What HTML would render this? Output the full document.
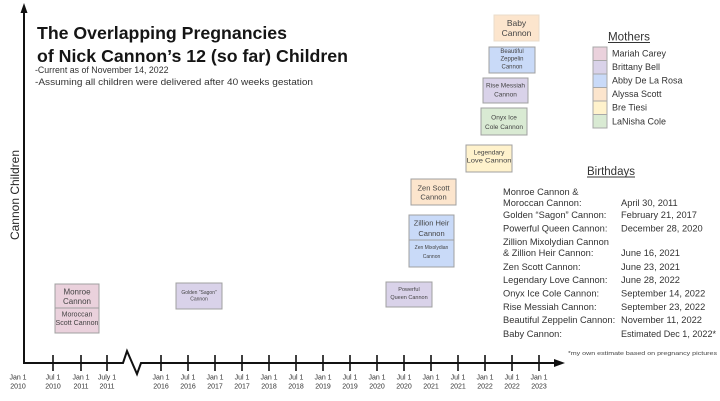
<!DOCTYPE html>
<html>
<head>
<meta charset="utf-8">
<style>
html,body{margin:0;padding:0;background:#fff;}
svg{display:block;}
text{font-family:"Liberation Sans",Arial,sans-serif;}
</style>
</head>
<body>
<svg width="720" height="401" viewBox="0 0 720 401" xmlns="http://www.w3.org/2000/svg">
<rect x="0" y="0" width="720" height="401" fill="#fff"/>

<!-- Title -->
<text x="37" y="39" font-size="17.5" font-weight="bold" fill="#151515" textLength="250" lengthAdjust="spacingAndGlyphs">The Overlapping Pregnancies</text>
<text x="37" y="62" font-size="17.5" font-weight="bold" fill="#151515" textLength="311" lengthAdjust="spacingAndGlyphs">of Nick Cannon’s 12 (so far) Children</text>
<text x="35" y="70" font-size="8.8" fill="#333" dominant-baseline="central">-Current as of November 14, 2022</text>
<text x="35" y="82" font-size="8.8" fill="#333" dominant-baseline="central" textLength="278" lengthAdjust="spacingAndGlyphs">-Assuming all children were delivered after 40 weeks gestation</text>

<!-- Y axis -->
<line x1="24" y1="10" x2="24" y2="363" stroke="#111" stroke-width="2"/>
<polygon points="24,3 20.5,13 27.5,13" fill="#111"/>
<text x="0" y="0" font-size="12" fill="#222" text-anchor="middle" dominant-baseline="central" transform="translate(15,195) rotate(-90)">Cannon Children</text>

<!-- X axis -->
<polyline points="23,363 123,363 127,351 137,374 141,363 556,363" fill="none" stroke="#111" stroke-width="2" stroke-linejoin="miter"/>
<polygon points="565,363 554,359 554,367" fill="#111"/>
<g stroke="#111" stroke-width="1.6">
<line x1="53" y1="355" x2="53" y2="371"/>
<line x1="81" y1="355" x2="81" y2="371"/>
<line x1="107" y1="355" x2="107" y2="371"/>
<line x1="161" y1="355" x2="161" y2="371"/>
<line x1="188" y1="355" x2="188" y2="371"/>
<line x1="215" y1="355" x2="215" y2="371"/>
<line x1="242" y1="355" x2="242" y2="371"/>
<line x1="269" y1="355" x2="269" y2="371"/>
<line x1="296" y1="355" x2="296" y2="371"/>
<line x1="323" y1="355" x2="323" y2="371"/>
<line x1="350" y1="355" x2="350" y2="371"/>
<line x1="377" y1="355" x2="377" y2="371"/>
<line x1="404" y1="355" x2="404" y2="371"/>
<line x1="431" y1="355" x2="431" y2="371"/>
<line x1="458" y1="355" x2="458" y2="371"/>
<line x1="485" y1="355" x2="485" y2="371"/>
<line x1="512" y1="355" x2="512" y2="371"/>
<line x1="539" y1="355" x2="539" y2="371"/>
</g>
<g font-size="7" fill="#333" text-anchor="middle" dominant-baseline="central">
<text x="18" y="378">Jan 1</text><text x="18" y="387">2010</text>
<text x="53" y="378">Jul 1</text><text x="53" y="387">2010</text>
<text x="81" y="378">Jan 1</text><text x="81" y="387">2011</text>
<text x="107" y="378">July 1</text><text x="107" y="387">2011</text>
<text x="161" y="378">Jan 1</text><text x="161" y="387">2016</text>
<text x="188" y="378">Jul 1</text><text x="188" y="387">2016</text>
<text x="215" y="378">Jan 1</text><text x="215" y="387">2017</text>
<text x="242" y="378">Jul 1</text><text x="242" y="387">2017</text>
<text x="269" y="378">Jan 1</text><text x="269" y="387">2018</text>
<text x="296" y="378">Jul 1</text><text x="296" y="387">2018</text>
<text x="323" y="378">Jan 1</text><text x="323" y="387">2019</text>
<text x="350" y="378">Jul 1</text><text x="350" y="387">2019</text>
<text x="377" y="378">Jan 1</text><text x="377" y="387">2020</text>
<text x="404" y="378">Jul 1</text><text x="404" y="387">2020</text>
<text x="431" y="378">Jan 1</text><text x="431" y="387">2021</text>
<text x="458" y="378">Jul 1</text><text x="458" y="387">2021</text>
<text x="485" y="378">Jan 1</text><text x="485" y="387">2022</text>
<text x="512" y="378">Jul 1</text><text x="512" y="387">2022</text>
<text x="539" y="378">Jan 1</text><text x="539" y="387">2023</text>
</g>

<!-- Child boxes -->
<g stroke="#a0a0a0" stroke-width="1">
<rect x="55" y="284" width="44" height="24" fill="#ead1dc"/>
<rect x="55" y="308" width="44" height="25" fill="#ead1dc"/>
<rect x="176" y="283" width="46" height="26" fill="#d9d2e9"/>
<rect x="386" y="282" width="46" height="25" fill="#d9d2e9"/>
<rect x="409" y="215" width="45" height="25" fill="#c9daf8"/>
<rect x="409" y="240" width="45" height="27" fill="#c9daf8"/>
<rect x="411" y="179" width="45" height="26" fill="#fce5cd"/>
<rect x="466" y="145" width="46" height="27" fill="#fff2cc"/>
<rect x="481" y="108" width="46" height="27" fill="#d9ead3"/>
<rect x="483" y="78" width="45" height="25" fill="#d9d2e9"/>
<rect x="489" y="47" width="46" height="26" fill="#c9daf8"/>
<rect x="494" y="15" width="45" height="26" fill="#fce5cd" stroke="#eadccb"/>
</g>
<g fill="#444" text-anchor="middle" dominant-baseline="central">
<text x="77" y="292" font-size="8">Monroe</text>
<text x="77" y="301.5" font-size="8">Cannon</text>
<text x="77" y="315" font-size="7">Moroccan</text>
<text x="77" y="323.5" font-size="7" textLength="43" lengthAdjust="spacingAndGlyphs">Scott Cannon</text>
<text x="199" y="293" font-size="5">Golden “Sagon”</text>
<text x="199" y="299.5" font-size="5">Cannon</text>
<text x="409" y="290" font-size="5.5">Powerful</text>
<text x="409" y="298" font-size="5.5">Queen Cannon</text>
<text x="431.5" y="223" font-size="7.5">Zillion Heir</text>
<text x="431.5" y="233.5" font-size="7.5">Cannon</text>
<text x="431.5" y="248" font-size="5">Zen Mixolydian</text>
<text x="431.5" y="257" font-size="5">Cannon</text>
<text x="433.5" y="188" font-size="7.5">Zen Scott</text>
<text x="433.5" y="197" font-size="7.5">Cannon</text>
<text x="489" y="153" font-size="6.5">Legendary</text>
<text x="489" y="161" font-size="6.5" textLength="45" lengthAdjust="spacingAndGlyphs">Love Cannon</text>
<text x="504" y="118" font-size="6.5">Onyx Ice</text>
<text x="504" y="127.5" font-size="6.5">Cole Cannon</text>
<text x="505.5" y="86" font-size="6.5">Rise Messiah</text>
<text x="505.5" y="95" font-size="6.5">Cannon</text>
<text x="512" y="52" font-size="6">Beautiful</text>
<text x="512" y="59.5" font-size="6">Zeppelin</text>
<text x="512" y="67.5" font-size="6">Cannon</text>
<text x="516.5" y="23" font-size="8.5">Baby</text>
<text x="516.5" y="33" font-size="8.5">Cannon</text>
</g>

<!-- Mothers legend -->
<text x="608" y="37.5" font-size="11.5" fill="#333" dominant-baseline="central" textLength="42" lengthAdjust="spacingAndGlyphs">Mothers</text>
<line x1="608" y1="42.5" x2="650" y2="42.5" stroke="#333" stroke-width="0.9"/>
<g stroke="#a8a8a8" stroke-width="1">
<rect x="593" y="47" width="14" height="13.5" fill="#ead1dc"/>
<rect x="593" y="60.5" width="14" height="13.5" fill="#d9d2e9"/>
<rect x="593" y="74" width="14" height="13.5" fill="#c9daf8"/>
<rect x="593" y="87.5" width="14" height="13.5" fill="#fce5cd"/>
<rect x="593" y="101" width="14" height="13.5" fill="#fff2cc"/>
<rect x="593" y="114.5" width="14" height="13.5" fill="#d9ead3"/>
</g>
<g font-size="9" fill="#333" dominant-baseline="central">
<text x="612" y="53.5">Mariah Carey</text>
<text x="612" y="67">Brittany Bell</text>
<text x="612" y="80.5">Abby De La Rosa</text>
<text x="612" y="94">Alyssa Scott</text>
<text x="612" y="107.5">Bre Tiesi</text>
<text x="612" y="121.5">LaNisha Cole</text>
</g>

<!-- Birthdays -->
<text x="587" y="172" font-size="11.5" fill="#333" dominant-baseline="central" textLength="48" lengthAdjust="spacingAndGlyphs">Birthdays</text>
<line x1="587" y1="177" x2="635" y2="177" stroke="#333" stroke-width="0.9"/>
<g font-size="9.3" fill="#333" dominant-baseline="central">
<text x="503" y="192">Monroe Cannon &amp;</text>
<text x="503" y="203">Moroccan Cannon:</text>
<text x="503" y="215">Golden “Sagon” Cannon:</text>
<text x="503" y="228.5">Powerful Queen Cannon:</text>
<text x="503" y="242">Zillion Mixolydian Cannon</text>
<text x="503" y="253">&amp; Zillion Heir Cannon:</text>
<text x="503" y="267">Zen Scott Cannon:</text>
<text x="503" y="280">Legendary Love Cannon:</text>
<text x="503" y="293.5">Onyx Ice Cole Cannon:</text>
<text x="503" y="307">Rise Messiah Cannon:</text>
<text x="503" y="320">Beautiful Zeppelin Cannon:</text>
<text x="503" y="334">Baby Cannon:</text>
<text x="621" y="203">April 30, 2011</text>
<text x="621" y="215">February 21, 2017</text>
<text x="621" y="228.5">December 28, 2020</text>
<text x="621" y="253">June 16, 2021</text>
<text x="621" y="267">June 23, 2021</text>
<text x="621" y="280">June 28, 2022</text>
<text x="621" y="293.5">September 14, 2022</text>
<text x="621" y="307">September 23, 2022</text>
<text x="621" y="320">November 11, 2022</text>
<text x="621" y="334" textLength="95" lengthAdjust="spacingAndGlyphs">Estimated Dec 1, 2022*</text>
</g>
<text x="568" y="354" font-size="5.5" fill="#444" dominant-baseline="central" textLength="149" lengthAdjust="spacingAndGlyphs">*my own estimate based on pregnancy pictures</text>
</svg>
</body>
</html>
